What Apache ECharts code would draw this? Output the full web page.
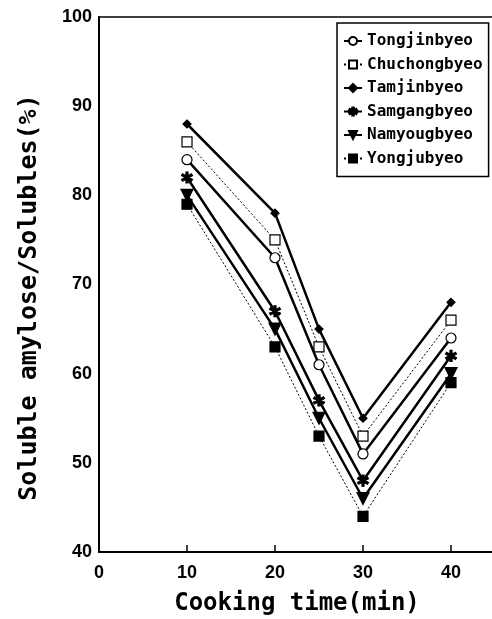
<!DOCTYPE html>
<html>
<head>
<meta charset="utf-8">
<script src="https://cdn.jsdelivr.net/npm/echarts@6/dist/echarts.min.js"></script>
<style>
  html, body { margin: 0; padding: 0; background: #fff; }
  #chart { width: 492px; height: 619px; }
</style>
</head>
<body>
<div id="chart"></div>
<script>
// cooking times (min)
var times = [10, 20, 25, 30, 40];

var varieties = ['Tongjinbyeo', 'Chuchongbyeo', 'Tamjinbyeo', 'Samgangbyeo', 'Namyougbyeo', 'Yongjubyeo'];

var tongjin  = [84, 73, 61, 51, 64];
var chuchong = [86, 75, 63, 53, 66];
var tamjin   = [88, 78, 65, 55, 68];
var samgang  = [82, 67, 57, 48, 62];
var namyoug  = [80, 65, 55, 46, 60];
var yongju   = [79, 63, 53, 44, 59];

var xTicks = [0, 10, 20, 30, 40];
var yTicks = [40, 50, 60, 70, 80, 90, 100];

var asterisk = 'path://M-0.9,-5L0.9,-5L0.9,5L-0.9,5Z' +
  'M3.88,3.28L-4.78,-1.72L-3.88,-3.28L4.78,1.72Z' +
  'M-3.88,3.28L-4.78,1.72L3.88,-3.28L4.78,-1.72Z';

var myChart = echarts.init(document.getElementById('chart'));

function pairs(vals) {
  return vals.map(function (v, i) { return [times[i], v]; });
}

function makeSeries(name, vals, symbol, size, width, dotted, fill, rotate) {
  return {
    name: name,
    type: 'line',
    data: pairs(vals),
    symbol: symbol,
    symbolSize: size,
    symbolRotate: rotate || 0,
    showAllSymbol: true,
    z: dotted ? 2 : 3,
    lineStyle: { color: '#000', width: width, type: dotted ? [2, 2] : 'solid' },
    itemStyle: { color: fill, borderColor: '#000', borderWidth: 1.2 },
    emphasis: { disabled: true }
  };
}

var option = {
  animation: false,
  backgroundColor: '#fff',
  grid: {
    left: 99, top: 17, width: 396, height: 535,
    outerBoundsMode: 'none',
    containLabel: false,
    show: true, borderColor: '#000', borderWidth: 1.5, backgroundColor: 'transparent'
  },
  legend: {
    orient: 'vertical',
    left: 337, top: 23,
    padding: [10, 6, 10, 6],
    itemWidth: 18, itemHeight: 10, itemGap: 7.5,
    borderColor: '#000', borderWidth: 1.5,
    backgroundColor: '#fff',
    data: varieties,
    textStyle: { fontFamily: 'DejaVu Sans Mono', fontWeight: 'bold', fontSize: 16, color: '#000' }
  },
  xAxis: {
    type: 'value',
    min: 0, max: 45, interval: 10,
    name: 'Cooking time(min)',
    nameLocation: 'middle',
    nameGap: 40,
    nameTextStyle: { fontFamily: 'DejaVu Sans Mono', fontWeight: 'bold', fontSize: 24, color: '#000' },
    axisLine: { lineStyle: { color: '#000', width: 2 } },
    axisTick: { inside: true, length: 7, lineStyle: { color: '#000', width: 1.5 } },
    axisLabel: {
      margin: 12, color: '#000', fontFamily: 'Liberation Sans', fontWeight: 'bold', fontSize: 18,
      formatter: function (v) { return xTicks.indexOf(v) >= 0 ? String(v) : ''; }
    },
    splitLine: { show: false }
  },
  yAxis: {
    type: 'value',
    min: 40, max: 100, interval: 10,
    name: 'Soluble amylose/Solubles(%)',
    nameLocation: 'middle',
    nameGap: 57,
    nameTextStyle: {
      fontFamily: 'DejaVu Sans Mono', fontWeight: 'bold', fontSize: 25, color: '#000',
      padding: [0, 26, 0, 0]
    },
    axisLine: { lineStyle: { color: '#000', width: 2 } },
    axisTick: { show: false },
    axisLabel: {
      margin: 7, color: '#000', fontFamily: 'Liberation Sans', fontWeight: 'bold', fontSize: 18,
      formatter: function (v) { return yTicks.indexOf(v) >= 0 ? String(v) : ''; }
    },
    splitLine: { show: false }
  },
  series: [
    makeSeries('Tongjinbyeo', tongjin, 'circle', 10, 2.5, false, '#fff'),
    makeSeries('Chuchongbyeo', chuchong, 'rect', 10, 1, true, '#fff'),
    makeSeries('Tamjinbyeo', tamjin, 'diamond', 8, 2.5, false, '#000'),
    makeSeries('Samgangbyeo', samgang, asterisk, 11, 2.5, false, '#000'),
    makeSeries('Namyougbyeo', namyoug, 'triangle', 12, 2.5, false, '#000', 180),
    makeSeries('Yongjubyeo', yongju, 'rect', 10, 1, true, '#000')
  ]
};

myChart.setOption(option);
</script>
</body>
</html>
